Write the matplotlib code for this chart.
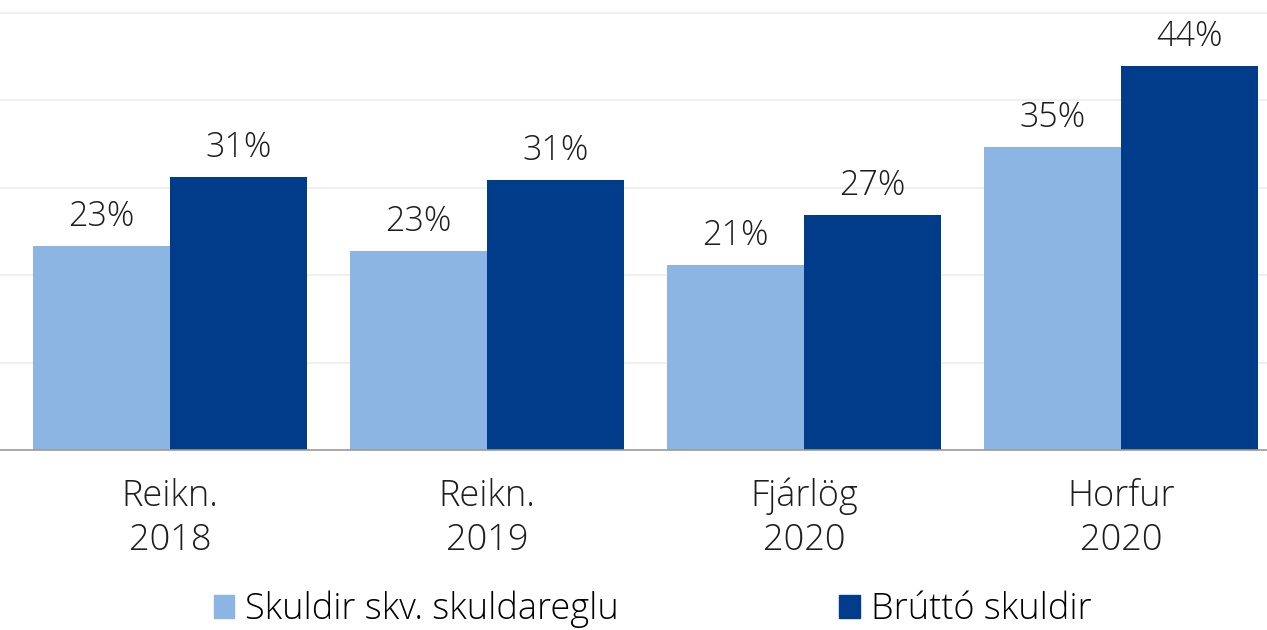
import matplotlib
matplotlib.use("Agg")
import matplotlib.pyplot as plt
import numpy as np
from matplotlib.patches import Patch

categories = ["Reikn.\n2018", "Reikn.\n2019", "Fjárlög\n2020", "Horfur\n2020"]
series_names = ["Skuldir skv. skuldareglu", "Brúttó skuldir"]
skuldaregla = [23.4, 22.8, 21.2, 34.7]
brutto = [31.3, 30.9, 26.9, 44.0]
skuldaregla_labels = ["23%", "23%", "21%", "35%"]
brutto_labels = ["31%", "31%", "27%", "44%"]

light = "#8DB5E3"
dark = "#003C8A"
plt.rcParams['font.family'] = ['Open Sans', 'DejaVu Sans']

fig = plt.figure(figsize=(12.67, 6.30), dpi=100)
ax = fig.add_axes([0.0, (630-450)/630, 1.0, 450/630])

x = np.arange(len(categories))
w = 0.4326
b1 = ax.bar(x - w/2, skuldaregla, w, color=light, zorder=2)
b2 = ax.bar(x + w/2, brutto, w, color=dark, zorder=2)

for bars, labels in ((b1, skuldaregla_labels), (b2, brutto_labels)):
    for rect, lab in zip(bars, labels):
        ax.annotate(lab, (rect.get_x() + rect.get_width()/2, rect.get_height()),
                    xytext=(0, 14.4), textcoords="offset points", ha="center", va="baseline",
                    fontsize=24.5, color="#1E1E1E", fontweight="light")

ax.set_xlim(-0.536, 3.461)
ax.set_ylim(0, 51.5)
ax.set_yticks([10, 20, 30, 40, 50])
ax.yaxis.grid(True, color="#EDEDED", linewidth=1.2, zorder=0)
ax.tick_params(axis="y", left=False, labelleft=False)
ax.set_xticks(x)
ax.set_xticklabels(categories, fontsize=26, color="#1E1E1E", fontweight="light", linespacing=1.25)
ax.tick_params(axis="x", length=0, pad=20)
for s in ["top", "right", "left"]:
    ax.spines[s].set_visible(False)
ax.spines["bottom"].set_color("#9A9A9A")
ax.spines["bottom"].set_linewidth(1.2)

handles = [Patch(color=light), Patch(color=dark)]
fig.legend(handles, series_names, loc="lower center", bbox_to_anchor=(0.515, 0.0), ncol=2,
           frameon=False, handlelength=0.57, handleheight=0.57,
           handletextpad=0.3, columnspacing=6.1, borderpad=0.05, borderaxespad=0,
           prop={'size': 26, 'weight': 'light'})

fig.savefig("out.png", dpi=100)
